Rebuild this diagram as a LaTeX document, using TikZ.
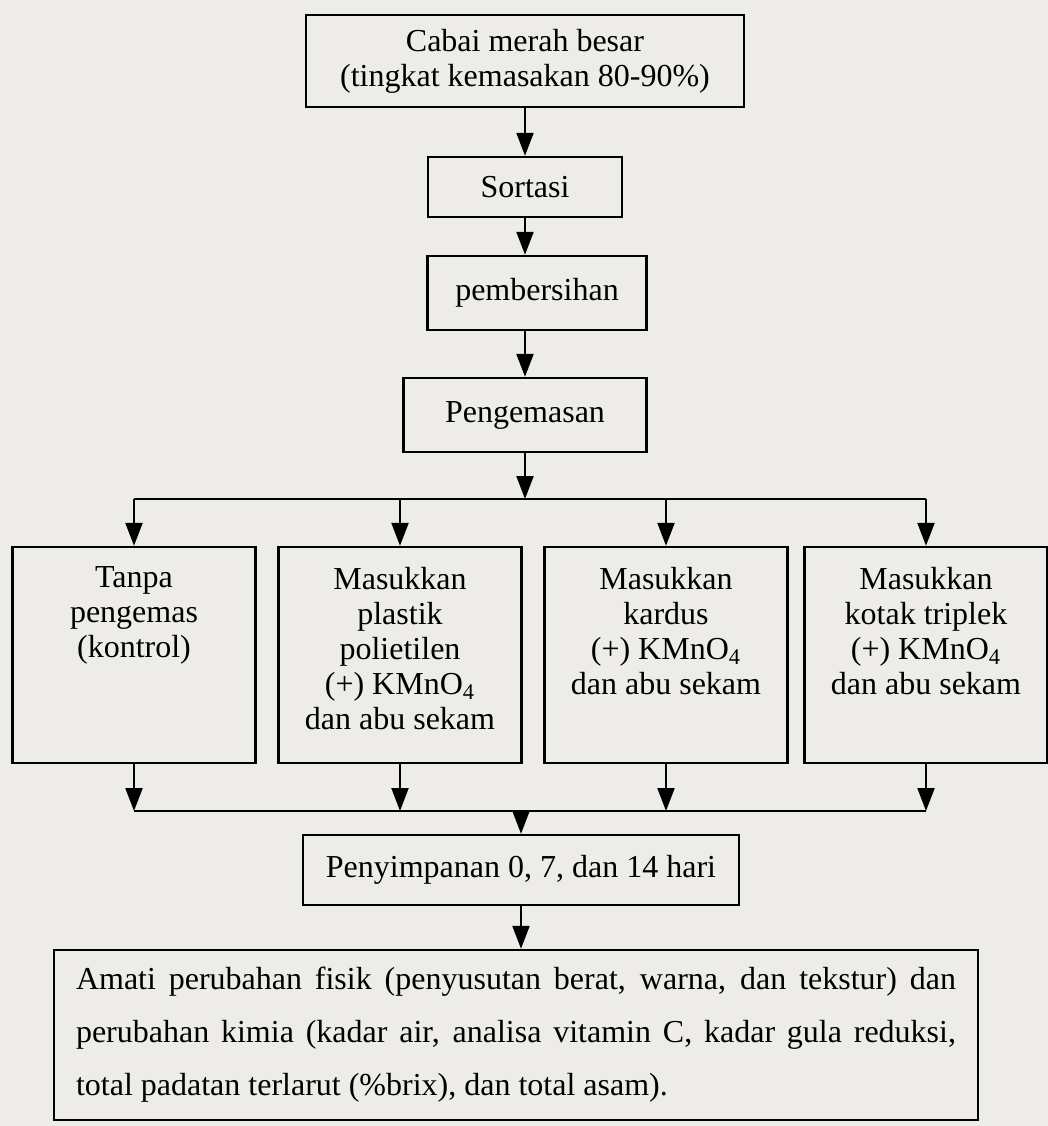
\documentclass[tikz,border=0pt]{standalone}
\usepackage{fontspec}
\setmainfont{Liberation Serif}
\usetikzlibrary{arrows.meta}
\definecolor{kertas}{RGB}{237,236,232}
\newcommand{\isikotak}[1]{\parbox[c][108pt][t]{121.5pt}{\centering\vspace*{10pt}#1}}
\tikzset{
	kotak/.style={draw, line width=1.2pt, inner sep=0pt, align=center, font=\fontsize{16}{17.5}\selectfont},
	panah/.style={-{Triangle[length=11.5pt,width=8.5pt]}, line width=1.1pt},
	garis/.style={line width=1.1pt}
}
\begin{document}
\begin{tikzpicture}[x=0.5pt,y=-0.5pt]
				\path[use as bounding box, fill=kertas] (0,0) rectangle (1048,1126);
				\node[kotak, minimum width=219pt, minimum height=46pt] (cabai) at (525,61) {Cabai merah besar\\(tingkat kemasakan 80-90\%)};
				\node[kotak, minimum width=97pt, minimum height=30pt] (sortasi) at (525,187) {Sortasi};
				\node[kotak, minimum width=109.5pt, minimum height=37pt] (bersih) at (537,293) {pembersihan};
				\node[kotak, minimum width=121.5pt, minimum height=37pt] (kemas) at (525,415) {Pengemasan};
				\node[kotak] (tanpa) at (134,655) {\isikotak{Tanpa\\pengemas\\(kontrol)}};
				\node[kotak] (plastik) at (400,655) {\isikotak{Masukkan\\plastik\\polietilen\\(+) KMnO\textsubscript{4}\\dan abu sekam}};
				\node[kotak] (kardus) at (666,655) {\isikotak{Masukkan\\kardus\\(+) KMnO\textsubscript{4}\\dan abu sekam}};
				\node[kotak] (triplek) at (926,655) {\isikotak{Masukkan\\kotak triplek\\(+) KMnO\textsubscript{4}\\dan abu sekam}};
				\node[kotak, minimum width=218pt, minimum height=35pt] (simpan) at (521,870) {Penyimpanan 0, 7, dan 14 hari};
				\node[kotak, text width=440pt, inner xsep=11pt, minimum height=85pt, align=justify, font=\fontsize{16}{26.5}\selectfont] (amati) at (516,1035) {Amati perubahan fisik (penyusutan berat, warna, dan tekstur) dan\linebreak perubahan kimia (kadar air, analisa vitamin C, kadar gula reduksi,\linebreak total padatan terlarut (\%brix), dan total asam).};
				\draw[panah] (cabai) -- (sortasi);
				\draw[panah] (sortasi.south) -- (sortasi.south |- bersih.north);
				\draw[panah] (kemas.north |- bersih.south) -- (kemas.north);
				\coordinate (cabang) at (525,499);
				\draw[panah] (kemas.south) -- (cabang);
				\draw[garis] (tanpa.north |- cabang) -- (triplek.north |- cabang);
				\foreach \k in {tanpa,plastik,kardus,triplek}
					\draw[panah] (\k.north |- cabang) -- (\k.north);
				\coordinate (gabung) at (521,811);
				\foreach \k in {tanpa,plastik,kardus,triplek}
					\draw[panah] (\k.south) -- (\k.south |- gabung);
				\draw[garis] (tanpa.south |- gabung) -- (triplek.south |- gabung);
				\draw[panah] (gabung) -- (simpan.north);
				\draw[panah] (simpan.south) -- (simpan.south |- amati.north);
\end{tikzpicture}
\end{document}
